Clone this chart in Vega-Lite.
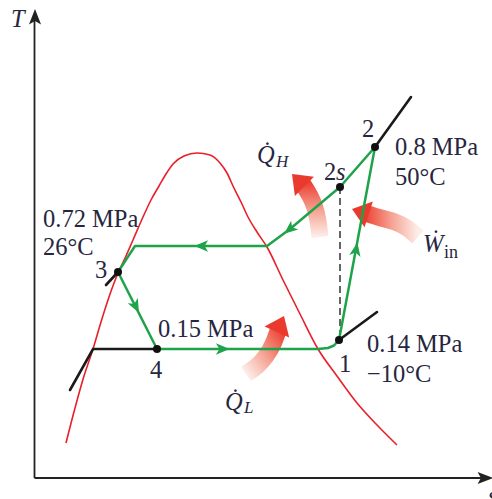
{
"$schema": "https://vega.github.io/schema/vega-lite/v6.json",
"width": 492, "height": 499, "autosize": "none", "padding": 0,
"background": "white",
"config": {"view": {"stroke": null}},
"encoding": {
  "x": {"field": "s", "type": "quantitative", "scale": {"domain": [0, 492], "nice": false, "zero": false}, "axis": null},
  "y": {"field": "T", "type": "quantitative", "scale": {"domain": [0, 499], "nice": false, "zero": false}, "axis": null}
},
"datasets": {
  "axes": [
    {"seg": "T", "i": 0, "s": 34.5, "T": 21}, {"seg": "T", "i": 1, "s": 34.5, "T": 480},
    {"seg": "s", "i": 0, "s": 34.5, "T": 21}, {"seg": "s", "i": 1, "s": 482, "T": 21}
  ],
  "axtips": [
    {"name": "T", "s": 35, "T": 490},
    {"name": "s", "s": 493, "T": 21}
  ],
  "dome": [
    {"s": 66, "T": 56}, {"s": 75, "T": 91}, {"s": 84, "T": 123}, {"s": 93, "T": 150}, {"s": 101, "T": 177},
    {"s": 109, "T": 202}, {"s": 118, "T": 226}, {"s": 126, "T": 243}, {"s": 133, "T": 259}, {"s": 143, "T": 282},
    {"s": 151, "T": 299}, {"s": 159, "T": 313}, {"s": 166, "T": 325}, {"s": 173, "T": 335}, {"s": 184, "T": 343},
    {"s": 197, "T": 346}, {"s": 210, "T": 344}, {"s": 220, "T": 336}, {"s": 227, "T": 326}, {"s": 233, "T": 313},
    {"s": 241, "T": 297}, {"s": 248, "T": 282}, {"s": 257, "T": 267}, {"s": 267, "T": 252}, {"s": 283, "T": 219},
    {"s": 300, "T": 185}, {"s": 318, "T": 150}, {"s": 337, "T": 123}, {"s": 357, "T": 96}, {"s": 377, "T": 74},
    {"s": 397, "T": 54}
  ],
  "black": [
    {"seg": "A", "i": 0, "s": 375, "T": 352}, {"seg": "A", "i": 1, "s": 411, "T": 402},
    {"seg": "B", "i": 0, "s": 339, "T": 159}, {"seg": "B", "i": 1, "s": 377, "T": 187},
    {"seg": "C", "i": 0, "s": 118, "T": 227}, {"seg": "C", "i": 1, "s": 106, "T": 214},
    {"seg": "D", "i": 0, "s": 70, "T": 109}, {"seg": "D", "i": 1, "s": 93, "T": 150}, {"seg": "D", "i": 2, "s": 157, "T": 150}
  ],
  "dash": [
    {"i": 0, "s": 340, "T": 312}, {"i": 1, "s": 340, "T": 160}
  ],
  "cycle": [
    {"i": 0, "s": 339, "T": 159}, {"i": 1, "s": 375, "T": 352}, {"i": 2, "s": 340, "T": 312},
    {"i": 3, "s": 290, "T": 270}, {"i": 4, "s": 267, "T": 253}, {"i": 5, "s": 135, "T": 253},
    {"i": 6, "s": 118, "T": 227}, {"i": 7, "s": 157, "T": 150}, {"i": 8, "s": 318, "T": 150},
    {"i": 9, "s": 328, "T": 151}, {"i": 10, "s": 334, "T": 153.5}, {"i": 11, "s": 339, "T": 159}
  ],
  "flow": [
    {"name": "compress", "s": 356, "T": 249},
    {"name": "desuper", "s": 290, "T": 270},
    {"name": "condense", "s": 202, "T": 253},
    {"name": "throttle", "s": 135.5, "T": 193},
    {"name": "evaporate", "s": 222, "T": 150}
  ],
  "dots": [
    {"s": 339, "T": 159}, {"s": 375, "T": 352}, {"s": 340, "T": 312}, {"s": 118, "T": 227}, {"s": 157, "T": 150}
  ],
  "heat": [
    {"name": "QH", "i": 0, "s": 302, "T": 316}, {"name": "QH", "i": 1, "s": 310, "T": 303},
    {"name": "QH", "i": 2, "s": 315, "T": 291}, {"name": "QH", "i": 3, "s": 318, "T": 278}, {"name": "QH", "i": 4, "s": 320, "T": 262},
    {"name": "W", "i": 0, "s": 365, "T": 286}, {"name": "W", "i": 1, "s": 381, "T": 281},
    {"name": "W", "i": 2, "s": 395, "T": 277}, {"name": "W", "i": 3, "s": 407, "T": 271}, {"name": "W", "i": 4, "s": 418, "T": 262},
    {"name": "QL", "i": 0, "s": 279, "T": 171}, {"name": "QL", "i": 1, "s": 273, "T": 155},
    {"name": "QL", "i": 2, "s": 266, "T": 143}, {"name": "QL", "i": 3, "s": 257, "T": 133}, {"name": "QL", "i": 4, "s": 246, "T": 125}
  ],
  "heads": [
    {"name": "QH", "s": 292, "T": 325},
    {"name": "W", "s": 352, "T": 290},
    {"name": "QL", "s": 284, "T": 183}
  ],
  "labels": [
    {"kind": "main", "txt": "0.72 MPa", "s": 43, "T": 272},
    {"kind": "main", "txt": "26°C", "s": 43, "T": 244},
    {"kind": "main", "txt": "3", "s": 95, "T": 221},
    {"kind": "main", "txt": "0.8 MPa", "s": 395, "T": 344},
    {"kind": "main", "txt": "50°C", "s": 395, "T": 314},
    {"kind": "main", "txt": "2", "s": 362, "T": 362},
    {"kind": "main", "txt": "2", "s": 324, "T": 319},
    {"kind": "main", "txt": "0.15 MPa", "s": 158, "T": 162},
    {"kind": "main", "txt": "4", "s": 150, "T": 121},
    {"kind": "main", "txt": "1", "s": 339, "T": 127},
    {"kind": "main", "txt": "0.14 MPa", "s": 367, "T": 147},
    {"kind": "main", "txt": "−10°C", "s": 367, "T": 117},
    {"kind": "ital", "txt": "s", "s": 336, "T": 319},
    {"kind": "ital", "txt": "T", "s": 11, "T": 472},
    {"kind": "ital", "txt": "Q̇", "s": 257, "T": 336},
    {"kind": "ital", "txt": "Ẇ", "s": 423, "T": 247},
    {"kind": "ital", "txt": "Q̇", "s": 225, "T": 89},
    {"kind": "ital", "txt": "s", "s": 488, "T": -5},
    {"kind": "sub", "txt": "H", "s": 276, "T": 332},
    {"kind": "sub", "txt": "L", "s": 244, "T": 86},
    {"kind": "subup", "txt": "in", "s": 444, "T": 241}
  ]
},
"layer": [
  {"data": {"name": "axes"}, "mark": {"type": "line", "color": "#222222", "strokeWidth": 1.8}, "encoding": {"detail": {"field": "seg"}, "order": {"field": "i"}}},
  {"data": {"name": "axtips"}, "transform": [{"filter": "datum.name === 'T'"}], "mark": {"type": "point", "shape": "M0,0L0.55,1.4L0,1.1L-0.55,1.4Z", "filled": true, "color": "#222222", "opacity": 1, "size": 484, "angle": 0}},
  {"data": {"name": "axtips"}, "transform": [{"filter": "datum.name === 's'"}], "mark": {"type": "point", "shape": "M0,0L0.55,1.4L0,1.1L-0.55,1.4Z", "filled": true, "color": "#222222", "opacity": 1, "size": 484, "angle": 90}},
  {"data": {"name": "dome"}, "mark": {"type": "line", "interpolate": "monotone", "color": "#e8202a", "strokeWidth": 1.6}},
  {"data": {"name": "black"}, "mark": {"type": "line", "color": "#1a1a1a", "strokeWidth": 2.6, "strokeCap": "round"}, "encoding": {"detail": {"field": "seg"}, "order": {"field": "i"}}},
  {"data": {"name": "dash"}, "mark": {"type": "line", "color": "#333333", "strokeWidth": 1.5, "strokeDash": [7, 4]}, "encoding": {"order": {"field": "i"}}},
  {"data": {"name": "heat"}, "transform": [{"filter": "datum.name === 'QH'"}], "mark": {"type": "line", "interpolate": "natural", "strokeWidth": 17, "strokeCap": "butt",
    "stroke": {"gradient": "linear", "x1": 0, "y1": 1, "x2": 0, "y2": 0, "stops": [{"offset": 0, "color": "#fdeeea"}, {"offset": 0.5, "color": "#f5a292"}, {"offset": 1, "color": "#ec4234"}]}},
    "encoding": {"order": {"field": "i"}}},
  {"data": {"name": "heat"}, "transform": [{"filter": "datum.name === 'W'"}], "mark": {"type": "line", "interpolate": "natural", "strokeWidth": 17, "strokeCap": "butt",
    "stroke": {"gradient": "linear", "x1": 1, "y1": 0, "x2": 0, "y2": 0, "stops": [{"offset": 0, "color": "#fdeeea"}, {"offset": 0.5, "color": "#f5a292"}, {"offset": 1, "color": "#ec4234"}]}},
    "encoding": {"order": {"field": "i"}}},
  {"data": {"name": "heat"}, "transform": [{"filter": "datum.name === 'QL'"}], "mark": {"type": "line", "interpolate": "natural", "strokeWidth": 17, "strokeCap": "butt",
    "stroke": {"gradient": "linear", "x1": 0, "y1": 1, "x2": 1, "y2": 0, "stops": [{"offset": 0, "color": "#fdeeea"}, {"offset": 0.5, "color": "#f5a292"}, {"offset": 1, "color": "#ec4234"}]}},
    "encoding": {"order": {"field": "i"}}},
  {"data": {"name": "heads"}, "transform": [{"filter": "datum.name === 'QH'"}], "mark": {"type": "point", "shape": "M0,0L1,1.3L-1,1.3Z", "filled": true, "color": "#ea3a2e", "opacity": 1, "size": 729, "angle": 315}},
  {"data": {"name": "heads"}, "transform": [{"filter": "datum.name === 'W'"}], "mark": {"type": "point", "shape": "M0,0L1,1.3L-1,1.3Z", "filled": true, "color": "#ea3a2e", "opacity": 1, "size": 729, "angle": 288}},
  {"data": {"name": "heads"}, "transform": [{"filter": "datum.name === 'QL'"}], "mark": {"type": "point", "shape": "M0,0L1,1.3L-1,1.3Z", "filled": true, "color": "#ea3a2e", "opacity": 1, "size": 729, "angle": 24}},
  {"data": {"name": "cycle"}, "mark": {"type": "line", "color": "#1fa34a", "strokeWidth": 2.5, "strokeJoin": "round"}, "encoding": {"order": {"field": "i"}}},
  {"data": {"name": "flow"}, "transform": [{"filter": "datum.name === 'compress'"}], "mark": {"type": "point", "shape": "M0,-1L0.75,0.8L0,0.35L-0.75,0.8Z", "filled": true, "color": "#1fa34a", "opacity": 1, "size": 230, "angle": 10.6}},
  {"data": {"name": "flow"}, "transform": [{"filter": "datum.name === 'desuper'"}], "mark": {"type": "point", "shape": "M0,-1L0.75,0.8L0,0.35L-0.75,0.8Z", "filled": true, "color": "#1fa34a", "opacity": 1, "size": 230, "angle": 231}},
  {"data": {"name": "flow"}, "transform": [{"filter": "datum.name === 'condense'"}], "mark": {"type": "point", "shape": "M0,-1L0.75,0.8L0,0.35L-0.75,0.8Z", "filled": true, "color": "#1fa34a", "opacity": 1, "size": 230, "angle": 270}},
  {"data": {"name": "flow"}, "transform": [{"filter": "datum.name === 'throttle'"}], "mark": {"type": "point", "shape": "M0,-1L0.75,0.8L0,0.35L-0.75,0.8Z", "filled": true, "color": "#1fa34a", "opacity": 1, "size": 230, "angle": 153}},
  {"data": {"name": "flow"}, "transform": [{"filter": "datum.name === 'evaporate'"}], "mark": {"type": "point", "shape": "M0,-1L0.75,0.8L0,0.35L-0.75,0.8Z", "filled": true, "color": "#1fa34a", "opacity": 1, "size": 230, "angle": 90}},
  {"data": {"name": "dots"}, "mark": {"type": "circle", "color": "#111111", "opacity": 1, "size": 64}},
  {"data": {"name": "labels"}, "transform": [{"filter": "datum.kind === 'main'"}], "mark": {"type": "text", "font": "Liberation Serif", "fontSize": 24.5, "color": "#262640", "align": "left", "baseline": "alphabetic"}, "encoding": {"text": {"field": "txt"}}},
  {"data": {"name": "labels"}, "transform": [{"filter": "datum.kind === 'ital'"}], "mark": {"type": "text", "font": "Liberation Serif", "fontStyle": "italic", "fontSize": 24.5, "color": "#262640", "align": "left", "baseline": "alphabetic"}, "encoding": {"text": {"field": "txt"}}},
  {"data": {"name": "labels"}, "transform": [{"filter": "datum.kind === 'sub'"}], "mark": {"type": "text", "font": "Liberation Serif", "fontStyle": "italic", "fontSize": 17, "color": "#262640", "align": "left", "baseline": "alphabetic"}, "encoding": {"text": {"field": "txt"}}},
  {"data": {"name": "labels"}, "transform": [{"filter": "datum.kind === 'subup'"}], "mark": {"type": "text", "font": "Liberation Serif", "fontSize": 18, "color": "#262640", "align": "left", "baseline": "alphabetic"}, "encoding": {"text": {"field": "txt"}}}
]
}
